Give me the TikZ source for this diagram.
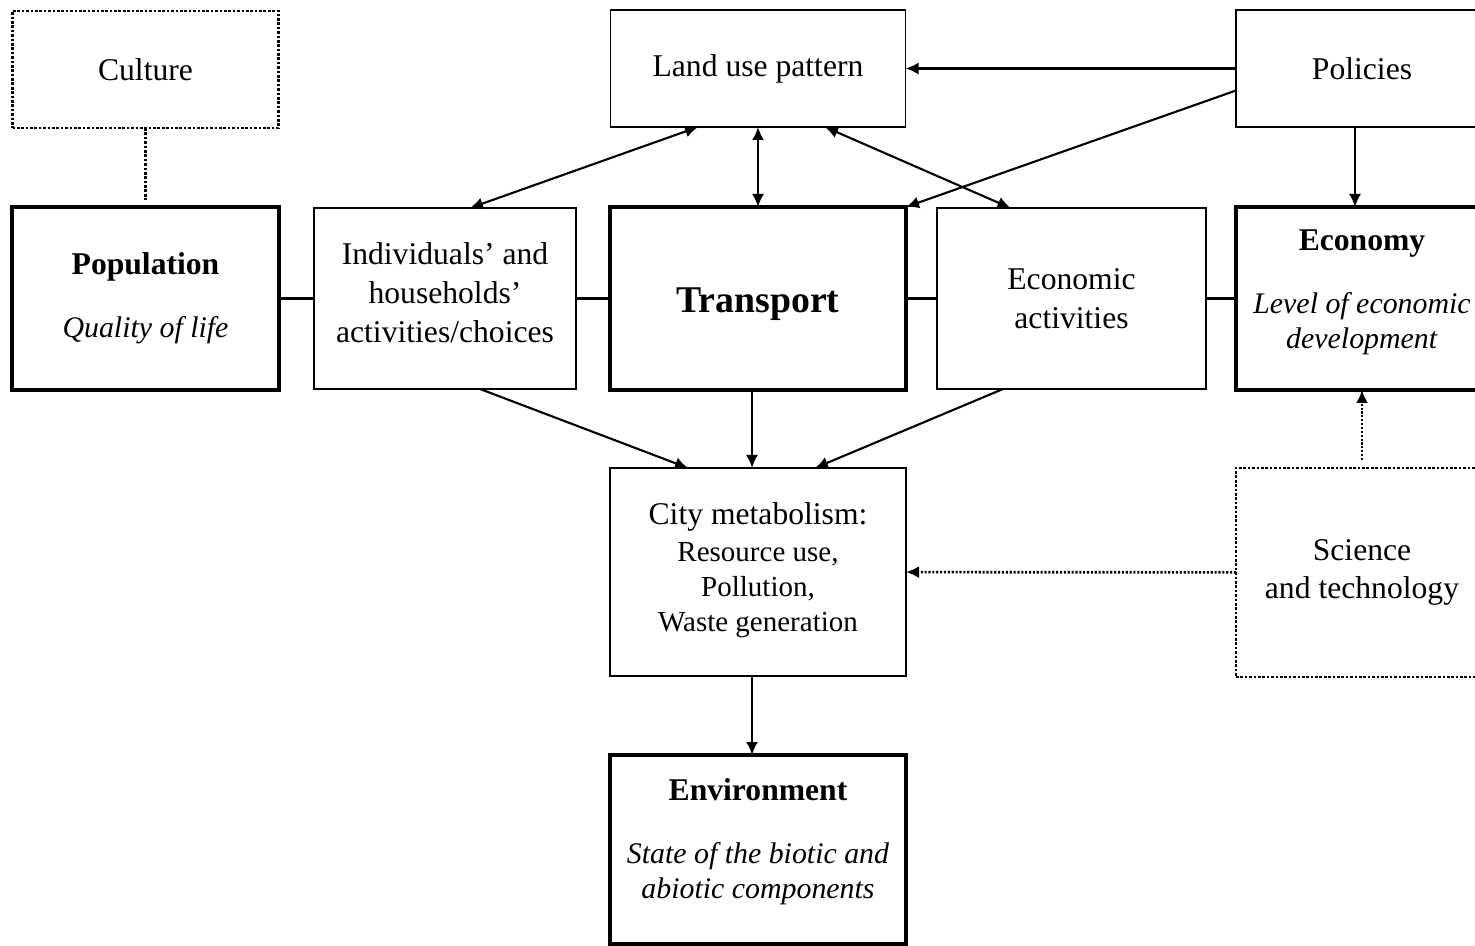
\documentclass[tikz,border=0pt]{standalone}
\usepackage{fontspec}
\setmainfont{Liberation Serif}
\usepackage{tikz}
\usetikzlibrary{arrows.meta,positioning}

\begin{document}
\begin{tikzpicture}[
box/.style={draw,line width=1.1pt,inner sep=0pt,outer sep=0pt,align=center,font=\fontsize{18}{22}\selectfont},
bbox/.style={box,line width=2.4pt},
dbox/.style={box,line width=1.5pt,densely dotted},
arr/.style={-{Latex[length=2.6mm,width=2.4mm]},line width=1.2pt},
both/.style={{Latex[length=2.6mm,width=2.4mm]}-{Latex[length=2.6mm,width=2.4mm]},line width=1.2pt},
darr/.style={arr,densely dotted,line width=1.5pt},
link/.style={line width=1.7pt}]
\useasboundingbox (0,0) rectangle (29.5,-18.92);
\node[bbox,minimum width=5.92cm,minimum height=3.66cm,font=\fontsize{21.5}{26}\selectfont\bfseries,text height=21pt,text depth=5pt] (trans) at (15.16,-5.97) {Transport};
\node[box,minimum width=5.24cm,minimum height=3.62cm,left=0.68cm of trans,text height=55.8pt,text depth=6pt] (indiv) {Individuals’ and\\households’\\activities/choices};
\node[bbox,minimum width=5.34cm,minimum height=3.66cm,left=0.7cm of indiv,font=\fontsize{17}{20}\selectfont] (pop) {{\fontsize{18}{20}\selectfont\bfseries Population}\\[16pt]\textit{Quality of life}};
\node[box,minimum width=5.38cm,minimum height=3.62cm,right=0.62cm of trans] (econact) {Economic\\activities};
\node[bbox,minimum width=5.04cm,minimum height=3.66cm,right=0.6cm of econact,font=\fontsize{17}{20}\selectfont,text height=62.9pt,text depth=6pt] (econ) {{\fontsize{18}{20}\selectfont\bfseries Economy}\\[16pt]\textit{Level of economic}\\\textit{development}};
\node[box,minimum width=5.9cm,minimum height=2.34cm,above=1.6cm of trans] (land) {Land use pattern};
\node[dbox,minimum width=5.32cm,minimum height=2.34cm,above=1.58cm of pop] (culture) {Culture};
\node[box,minimum width=5.04cm,minimum height=2.34cm,above=1.6cm of econ] (pol) {Policies};
\node[box,minimum width=5.92cm,minimum height=4.16cm,below=1.56cm of trans,font=\fontsize{16.5}{20}\selectfont,text height=73.5pt,text depth=6pt] (city) {{\fontsize{18}{20}\selectfont City metabolism:}\\[1pt]Resource use,\\Pollution,\\Waste generation};
\node[dbox,minimum width=5.04cm,minimum height=4.18cm,below=1.56cm of econ] (sci) {Science\\and technology};
\node[bbox,minimum width=5.92cm,minimum height=3.78cm,below=1.58cm of city,font=\fontsize{17}{20}\selectfont,text height=61.7pt,text depth=6pt] (env) {{\fontsize{18}{20}\selectfont\bfseries Environment}\\[16pt]\textit{State of the biotic and}\\\textit{abiotic components}};
% links in the middle row
\draw[link] (pop) -- (indiv);
\draw[link] (indiv) -- (trans);
\draw[link] (trans) -- (econact);
\draw[link] (econact) -- (econ);
\draw[densely dotted,line width=1.5pt] (culture) -- ([yshift=0.14cm]pop.north);
% arrows
\draw[arr] (pol) -- (land);
\draw[arr] ([yshift=-0.44cm]pol.west) -- (trans.north east);
\draw[arr] ([xshift=-0.14cm]pol.south) -- ([xshift=-0.14cm]econ.north);
\draw[both] ([xshift=-1.2cm]land.south) -- ([xshift=0.5cm]indiv.north);
\draw[both] (land) -- (trans);
\draw[both] ([xshift=1.34cm]land.south) -- ([xshift=-1.22cm]econact.north);
\draw[arr] ([xshift=0.7cm]indiv.south) -- ([xshift=-1.4cm]city.north);
\draw[arr] ([xshift=-0.12cm]trans.south) -- ([xshift=-0.12cm]city.north);
\draw[arr] ([xshift=-1.37cm]econact.south) -- ([xshift=1.14cm]city.north);
\draw[arr] ([xshift=-0.12cm]city.south) -- ([xshift=-0.12cm]env.north);
\draw[darr] (sci) -- (city);
\draw[darr] ([yshift=0.16cm]sci.north) -- (econ.south);
\end{tikzpicture}
\end{document}
